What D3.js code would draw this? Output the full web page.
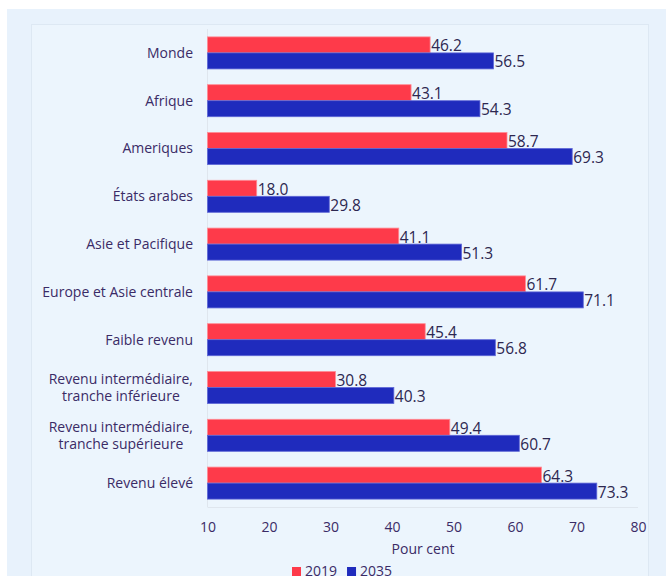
<!DOCTYPE html>
<html>
<head>
<meta charset="utf-8">
<script src="https://cdn.jsdelivr.net/npm/d3@7"></script>
<style>
  body { margin: 0; background: #fff; }
  svg { display: block; font-family: "Open Sans", sans-serif; }
</style>
</head>
<body>
<div id="chart"></div>
<script>
var categories = [
    ['Monde'],
    ['Afrique'],
    ['Ameriques'],
    ['États arabes'],
    ['Asie et Pacifique'],
    ['Europe et Asie centrale'],
    ['Faible revenu'],
    ['Revenu intermédiaire,', 'tranche inférieure'],
    ['Revenu intermédiaire,', 'tranche supérieure'],
    ['Revenu élevé']
];
var values2019 = [46.2, 43.1, 58.7, 18.0, 41.1, 61.7, 45.4, 30.8, 49.4, 64.3];
var values2035 = [56.5, 54.3, 69.3, 29.8, 51.3, 71.1, 56.8, 40.3, 60.7, 73.3];
var series = ['2019', '2035'];
var xTicks = [10, 20, 30, 40, 50, 60, 70, 80];

var W = 666, H = 576;
var colors = { '2019': '#fe3a4a', '2035': '#1f2bbd' };
var strokes = { '2019': '#ff8c95', '2035': '#5e67d6' };
var textColor = '#3a2b66';

var svg = d3.select('#chart').append('svg')
    .attr('width', W)
    .attr('height', H);

svg.append('rect')
    .attr('x', 7).attr('y', 9)
    .attr('width', W - 7).attr('height', H - 9)
    .attr('fill', '#e8f2fc');

svg.append('rect')
    .attr('x', 31.5).attr('y', 24.5)
    .attr('width', 617).attr('height', H)
    .attr('fill', '#ecf5fd')
    .attr('stroke', '#dde8f3');

var x = d3.scaleLinear().domain([10, 80]).range([207.5, 638]);
var y = d3.scaleBand()
    .domain(d3.range(categories.length))
    .range([29, 507])
    .paddingInner(0.33)
    .paddingOuter(0.165);
var bh = y.bandwidth() / 2;

// frame lines
svg.append('line')
    .attr('x1', x(10)).attr('x2', x(10))
    .attr('y1', 29).attr('y2', 507)
    .attr('stroke', '#dfe6ee');
svg.append('line')
    .attr('x1', x(10)).attr('x2', x(80))
    .attr('y1', 507.5).attr('y2', 507.5)
    .attr('stroke', '#dfe6ee');

var rows = svg.selectAll('.row')
    .data(categories)
    .enter()
    .append('g')
        .attr('class', 'row')
        .attr('transform', function(d, i) { return 'translate(0,' + y(i) + ')'; });

series.forEach(function(s, k) {
    var vals = k === 0 ? values2019 : values2035;
    rows.append('rect')
        .attr('x', x(10))
        .attr('y', k * bh)
        .attr('width', function(d, i) { return x(vals[i]) - x(10); })
        .attr('height', bh)
        .attr('fill', colors[s])
        .attr('stroke', strokes[s])
        .attr('stroke-width', 0.8);
    rows.append('text')
        .attr('x', function(d, i) { return x(vals[i]) + 1; })
        .attr('y', k * bh + bh - 1.5)
        .attr('fill', '#2d2750')
        .attr('font-size', 15.5)
        .text(function(d, i) { return vals[i].toFixed(1); });
});

// category labels
rows.each(function(d) {
    var g = d3.select(this);
    var lh = 17.5;
    var t = g.append('text')
        .attr('fill', textColor)
        .attr('font-size', 14)
        .attr('text-anchor', d.length > 1 ? 'middle' : 'end');
    var x0 = 193;
    if (d.length > 1) {
        // centre the lines within a right-aligned block
        var tmp = g.append('text').attr('font-size', 14).text(d[0]);
        var w = tmp.node().getComputedTextLength();
        tmp.remove();
        x0 = 193 - w / 2;
    }
    d.forEach(function(line, j) {
        t.append('tspan')
            .attr('x', x0)
            .attr('y', bh + 5 + (j - (d.length - 1) / 2) * lh)
            .text(line);
    });
});

// x axis
var xAxis = svg.append('g')
    .attr('transform', 'translate(0,507)')
    .call(d3.axisBottom(x).tickValues(xTicks).tickSize(0).tickPadding(15));
xAxis.select('.domain').remove();
xAxis.selectAll('text')
    .attr('fill', textColor)
    .attr('font-size', 14)
    .attr('font-family', '"Open Sans", sans-serif');

svg.append('text')
    .attr('x', 423).attr('y', 554)
    .attr('text-anchor', 'middle')
    .attr('fill', textColor)
    .attr('font-size', 14)
    .text('Pour cent');

// legend
var legend = svg.append('g').attr('transform', 'translate(292,0)');
var lx = 0;
series.forEach(function(s) {
    legend.append('rect')
        .attr('x', lx).attr('y', 567)
        .attr('width', 9).attr('height', 9)
        .attr('fill', colors[s]);
    var t = legend.append('text')
        .attr('x', lx + 13).attr('y', 576)
        .attr('fill', textColor)
        .attr('font-size', 14)
        .text(s);
    lx += 13 + t.node().getComputedTextLength() + 10;
});
</script>
</body>
</html>
